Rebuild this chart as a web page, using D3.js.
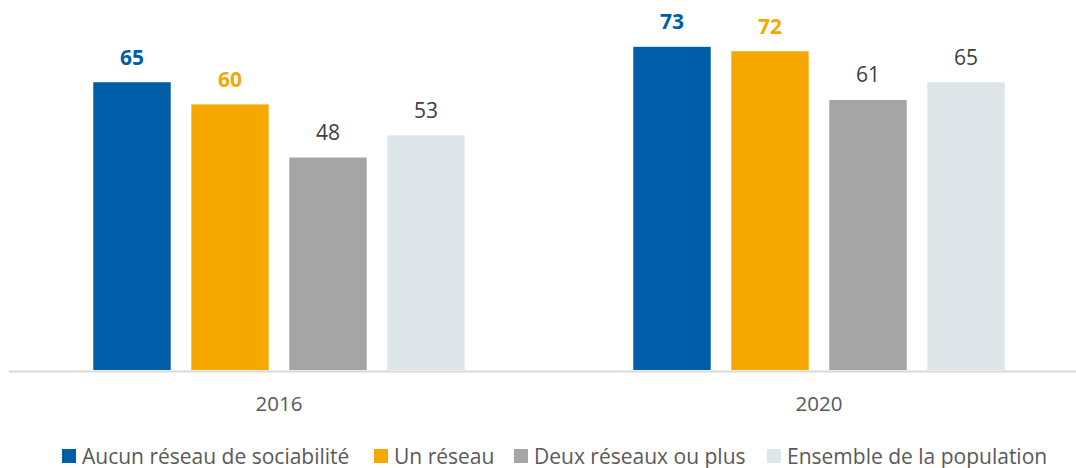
<!DOCTYPE html>
<html>
<head>
<meta charset="utf-8">
<script src="https://cdn.jsdelivr.net/npm/d3@7/dist/d3.min.js"></script>
<style>
  html, body { margin: 0; padding: 0; background: #fff; }
  svg { display: block; font-family: "Open Sans", sans-serif; }
</style>
</head>
<body>
<svg id="chart" width="1076" height="468"></svg>
<script>
// Years on the x axis
const years = ["2016", "2020"];
// Series names (legend order)
const seriesNames = ["Aucun réseau de sociabilité", "Un réseau", "Deux réseaux ou plus", "Ensemble de la population"];
// Values per series, one per year
const aucunReseau = [65, 73];
const unReseau = [60, 72];
const deuxReseaux = [48, 61];
const ensemble = [53, 65];

const seriesValues = [aucunReseau, unReseau, deuxReseaux, ensemble];
const barColors = ["#005DA8", "#F5A800", "#A5A5A5", "#DEE6EA"];
const labelColors = ["#005DA8", "#F5A800", "#404040", "#404040"];
const labelWeights = ["bold", "bold", "normal", "normal"];

const svg = d3.select("#chart");

const baseY = 370;
const y = d3.scaleLinear().domain([0, 80]).range([baseY, baseY - 80 * 4.427]);

const x0 = d3.scaleBand().domain(years).range([9, 1089]);
const bw = x0.bandwidth();
const x1 = d3.scaleBand().domain(d3.range(seriesNames.length))
  .range([(bw - 392) / 2, (bw + 392) / 2])
  .paddingInner(0.21).paddingOuter(0.105);

const rows = [];
years.forEach((yr, i) => {
  seriesValues.forEach((vals, s) => rows.push({ year: yr, s, v: vals[i] }));
});

const g = svg.append("g");
g.selectAll("rect.bar").data(rows).join("rect")
  .attr("class", "bar")
  .attr("x", d => x0(d.year) + x1(d.s))
  .attr("y", d => y(d.v))
  .attr("width", x1.bandwidth())
  .attr("height", d => y(0) - y(d.v))
  .attr("fill", d => barColors[d.s]);

g.selectAll("text.val").data(rows).join("text")
  .attr("class", "val")
  .attr("x", d => x0(d.year) + x1(d.s) + x1.bandwidth() / 2)
  .attr("y", d => y(d.v) - 17.5)
  .attr("text-anchor", "middle")
  .attr("font-size", 21)
  .attr("font-weight", d => labelWeights[d.s])
  .attr("fill", d => labelColors[d.s])
  .text(d => d.v);

// Category axis
const axis = d3.axisBottom(x0).tickSize(0).tickPadding(0);
const ax = svg.append("g").attr("transform", `translate(0,${baseY + 1.5})`).call(axis);
ax.select(".domain").remove();
ax.append("line").attr("x1", 9).attr("x2", 1076).attr("y1", 0).attr("y2", 0)
  .attr("stroke", "#D9D9D9").attr("stroke-width", 2);
ax.selectAll(".tick text")
  .attr("dy", 0).attr("y", 39.5)
  .attr("font-family", "Open Sans, sans-serif")
  .attr("font-size", 20.5).attr("fill", "#595959");

// Legend
const legendX = [62, 374, 514, 767];
const lg = svg.append("g").selectAll("g").data(seriesNames).join("g")
  .attr("transform", (d, i) => `translate(${legendX[i]},449)`);
lg.append("rect").attr("width", 14).attr("height", 14).attr("fill", (d, i) => barColors[i]);
lg.append("text").attr("x", 20).attr("y", 14.5)
  .attr("font-size", 21).attr("fill", "#595959").text(d => d);
</script>
</body>
</html>
